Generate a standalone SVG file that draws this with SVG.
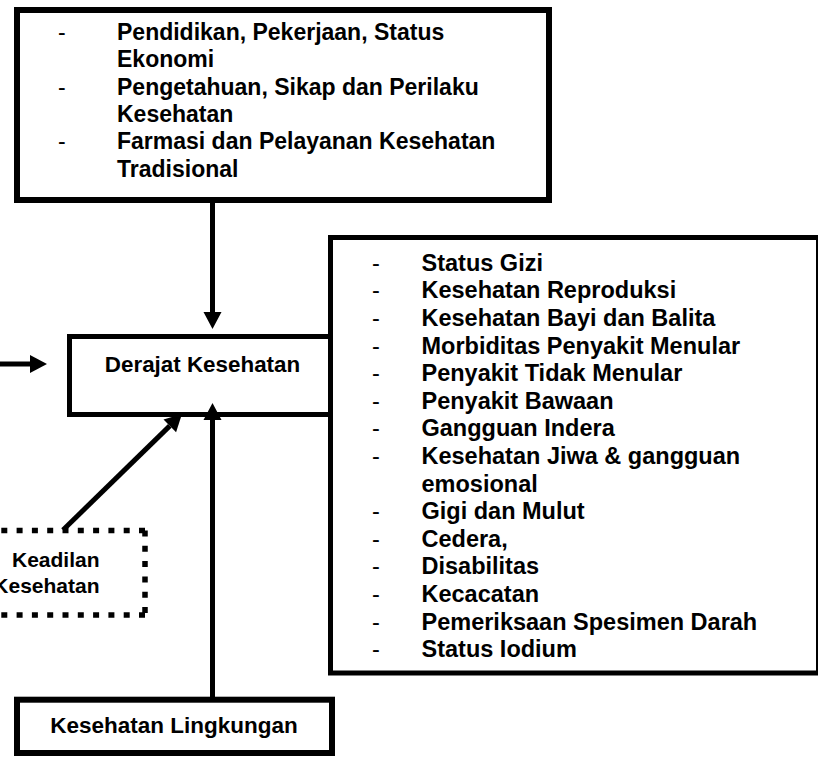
<svg xmlns="http://www.w3.org/2000/svg" width="818" height="757" viewBox="0 0 818 757">
<style>
.box{fill:#fff;stroke:#000}
.t{font-family:"Liberation Sans",Arial,sans-serif;font-weight:bold;fill:#000}
.d{font-family:"Liberation Sans",Arial,sans-serif;font-weight:normal;fill:#000}
.c{stroke:#000;stroke-width:5;fill:none}
.dot{stroke:#000;stroke-width:5.5;fill:none;stroke-dasharray:6 9.3}
</style>
<defs>
<marker id="ah" markerUnits="userSpaceOnUse" markerWidth="18" markerHeight="19" refX="0" refY="9" orient="auto" overflow="visible">
<path d="M0,0 L17,9 L0,18 z" fill="#000"/>
</marker>
</defs>
<rect width="818" height="757" fill="#fff"/>

<g id="faktor">
<rect class="box" x="17" y="10" width="532" height="190" stroke-width="6"/>
<g font-size="23">
<text class="d" x="58" y="40">-</text>
<text class="t" x="117" y="40">Pendidikan, Pekerjaan, Status</text>
<text class="t" x="117" y="67.3">Ekonomi</text>
<text class="d" x="58" y="94.6">-</text>
<text class="t" x="117" y="94.6">Pengetahuan, Sikap dan Perilaku</text>
<text class="t" x="117" y="121.9">Kesehatan</text>
<text class="d" x="58" y="149.2">-</text>
<text class="t" x="117" y="149.2">Farmasi dan Pelayanan Kesehatan</text>
<text class="t" x="117" y="176.5">Tradisional</text>
</g>
</g>

<g id="indikator">
<rect class="box" x="330.5" y="237.5" width="488" height="435.5" stroke-width="5"/>
<g font-size="23.5">
<text class="d" x="372" y="270.7">-</text><text class="t" x="421.5" y="270.7">Status Gizi</text>
<text class="d" x="372" y="298.3">-</text><text class="t" x="421.5" y="298.3">Kesehatan Reproduksi</text>
<text class="d" x="372" y="325.9">-</text><text class="t" x="421.5" y="325.9">Kesehatan Bayi dan Balita</text>
<text class="d" x="372" y="353.5">-</text><text class="t" x="421.5" y="353.5">Morbiditas Penyakit Menular</text>
<text class="d" x="372" y="381.1">-</text><text class="t" x="421.5" y="381.1">Penyakit Tidak Menular</text>
<text class="d" x="372" y="408.7">-</text><text class="t" x="421.5" y="408.7">Penyakit Bawaan</text>
<text class="d" x="372" y="436.3">-</text><text class="t" x="421.5" y="436.3">Gangguan Indera</text>
<text class="d" x="372" y="463.9">-</text><text class="t" x="421.5" y="463.9">Kesehatan Jiwa &amp; gangguan</text>
<text class="t" x="421.5" y="491.5">emosional</text>
<text class="d" x="372" y="519.1">-</text><text class="t" x="421.5" y="519.1">Gigi dan Mulut</text>
<text class="d" x="372" y="546.7">-</text><text class="t" x="421.5" y="546.7">Cedera,</text>
<text class="d" x="372" y="574.3">-</text><text class="t" x="421.5" y="574.3">Disabilitas</text>
<text class="d" x="372" y="601.9">-</text><text class="t" x="421.5" y="601.9">Kecacatan</text>
<text class="d" x="372" y="629.5">-</text><text class="t" x="421.5" y="629.5">Pemeriksaan Spesimen Darah</text>
<text class="d" x="372" y="657.1">-</text><text class="t" x="421.5" y="657.1">Status Iodium</text>
</g>
</g>

<g id="derajat">
<rect class="box" x="69.5" y="336.5" width="261" height="78" stroke-width="5"/>
<text class="t" x="202.5" y="372" font-size="22.4" text-anchor="middle">Derajat Kesehatan</text>
</g>

<g id="keadilan">
<line class="dot" x1="145" y1="530.5" x2="-10" y2="530.5"/>
<line class="dot" x1="145" y1="530.5" x2="145" y2="615"/>
<line class="dot" x1="145" y1="615" x2="-10" y2="615"/>
<text class="t" x="99.5" y="566.7" font-size="21" text-anchor="end">Keadilan</text>
<text class="t" x="99.5" y="593" font-size="21" text-anchor="end">Kesehatan</text>
</g>

<g id="lingkungan">
<rect class="box" x="17" y="699.7" width="315" height="53.3" stroke-width="6"/>
<text class="t" x="174" y="733" font-size="22.5" text-anchor="middle">Kesehatan Lingkungan</text>
</g>

<g id="connectors">
<line class="c" x1="212.5" y1="203" x2="212.5" y2="312" marker-end="url(#ah)"/>
<line class="c" x1="-5" y1="364" x2="30" y2="364" marker-end="url(#ah)"/>
<line class="c" x1="212.5" y1="697" x2="212.5" y2="420" marker-end="url(#ah)"/>
<line class="c" x1="63" y1="530" x2="169.8" y2="425.9" marker-end="url(#ah)"/>
</g>
</svg>
